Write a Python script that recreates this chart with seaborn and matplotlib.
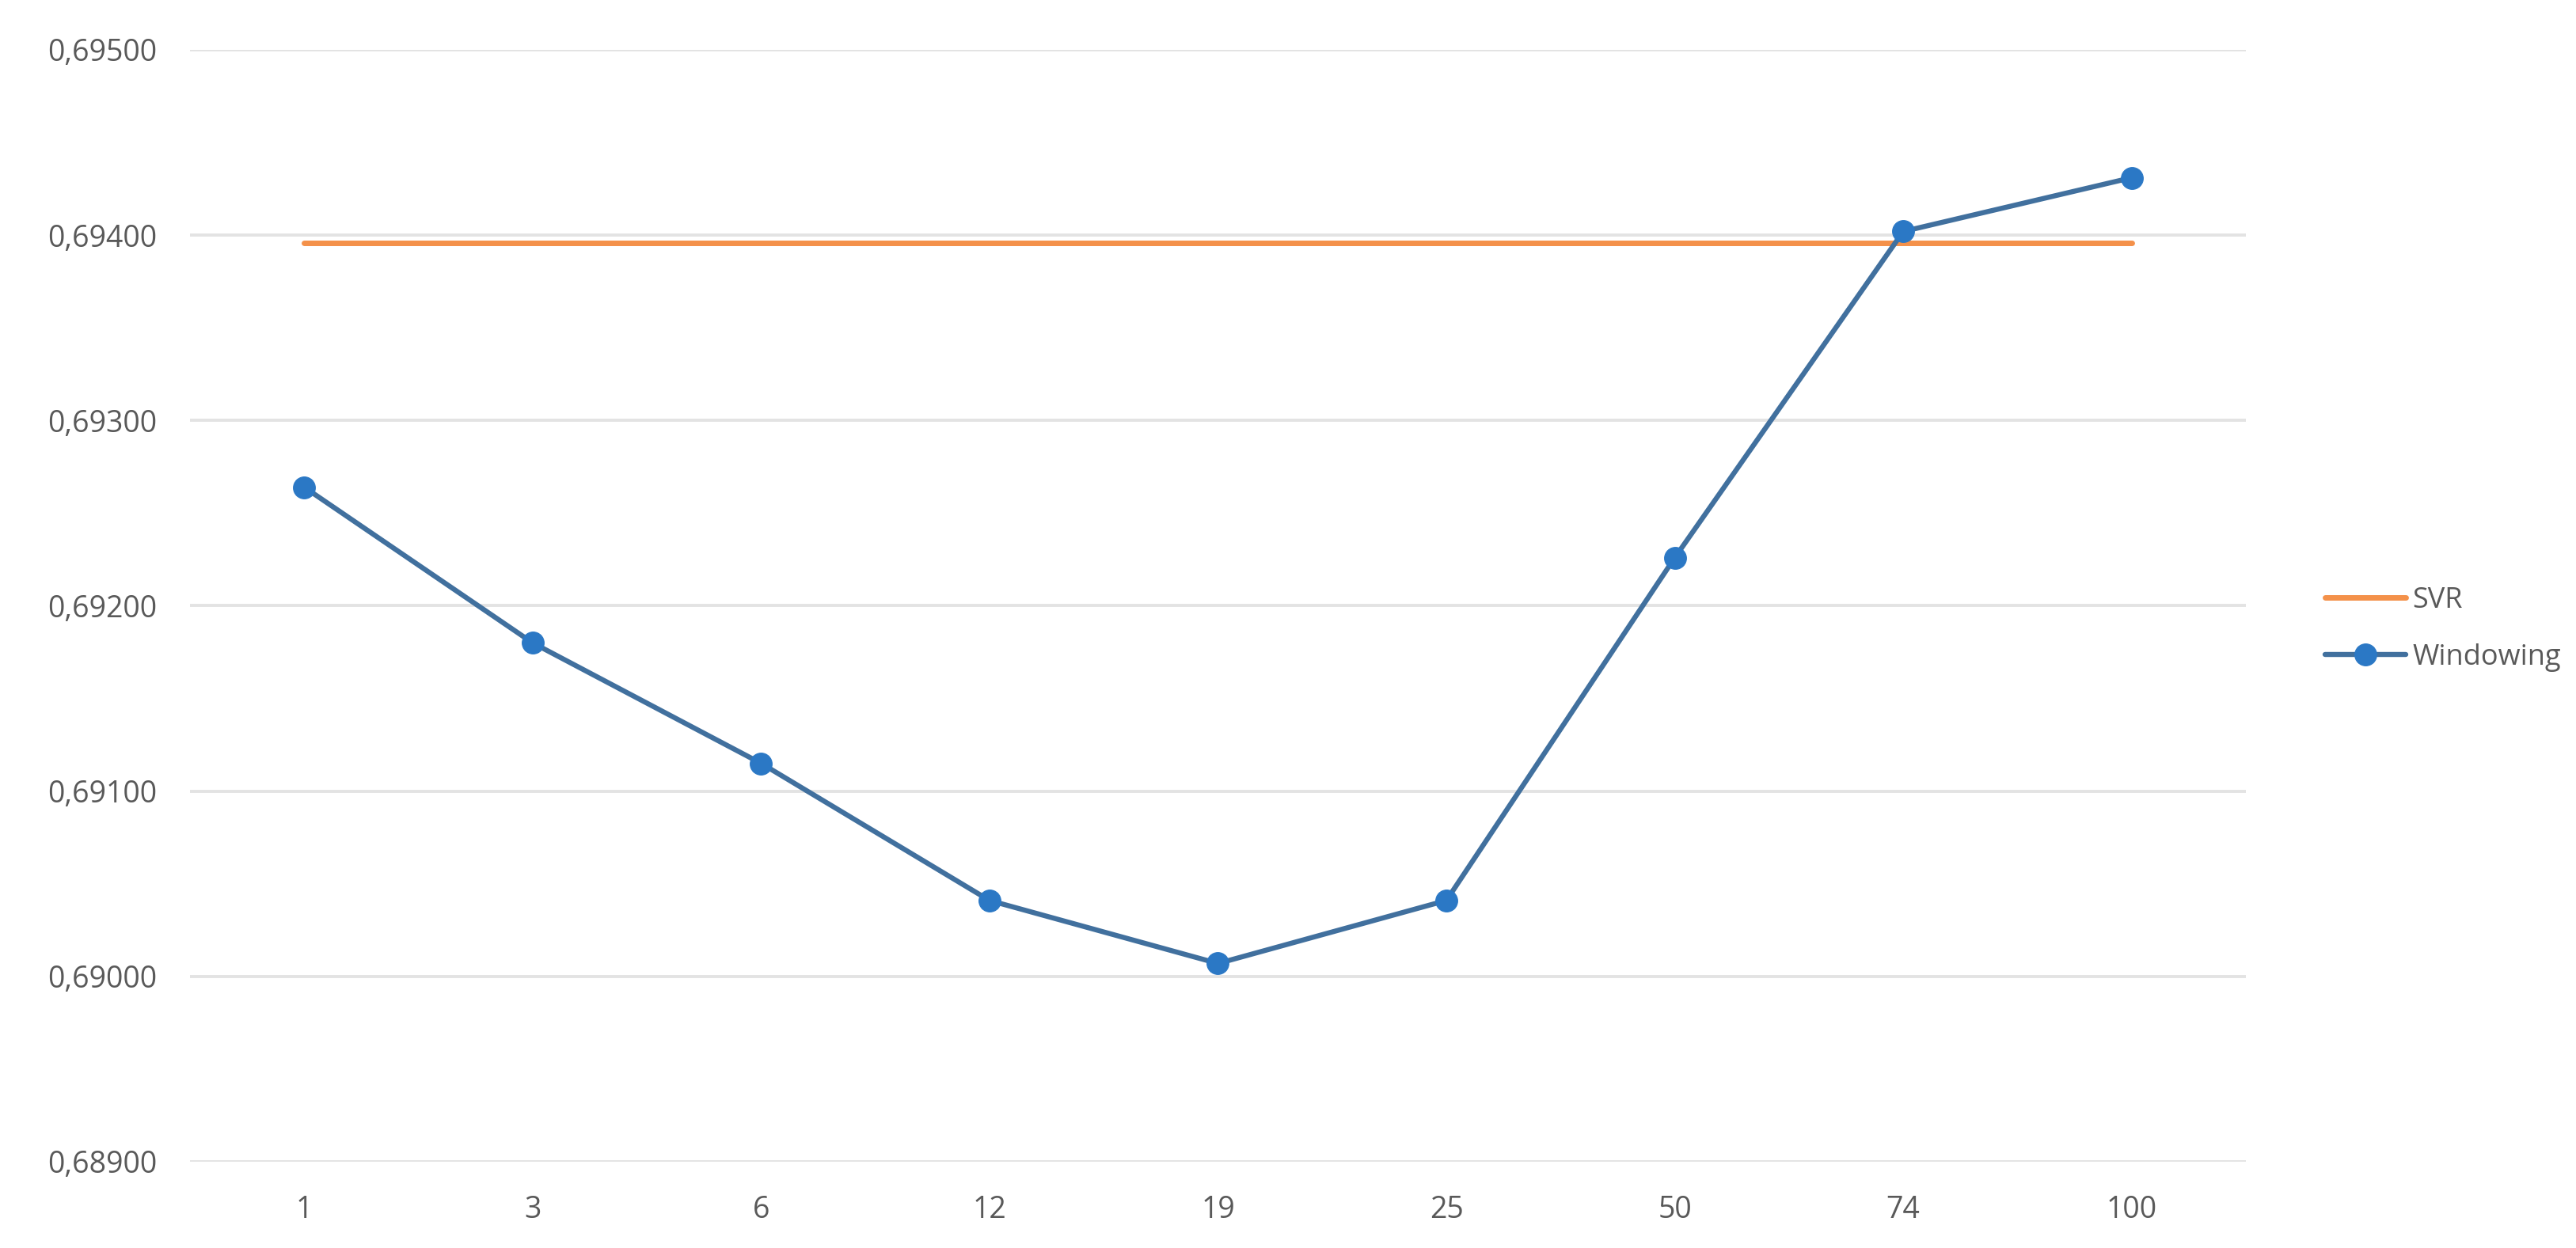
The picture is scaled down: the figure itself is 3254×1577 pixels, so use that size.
import matplotlib
matplotlib.use("Agg")
import matplotlib.pyplot as plt
import pandas as pd
import seaborn as sns
from matplotlib.ticker import FuncFormatter, MultipleLocator

# window sizes (x categories) and values
windows   = ["1", "3", "6", "12", "19", "25", "50", "74", "100"]
windowing = [0.69264, 0.69180, 0.69115, 0.69041, 0.69007, 0.69041, 0.69226, 0.69402, 0.69431]
svr       = [0.69396, 0.69396, 0.69396, 0.69396, 0.69396, 0.69396, 0.69396, 0.69396, 0.69396]
y_ticks   = [0.689, 0.690, 0.691, 0.692, 0.693, 0.694, 0.695]

df = pd.DataFrame({"window": windows, "Windowing": windowing, "SVR": svr})

sns.set_theme(style="white")
plt.rcParams["font.family"] = ["Open Sans", "DejaVu Sans"]

fig = plt.figure(figsize=(32.55, 15.77), dpi=100)
ax = fig.add_axes([240 / 3255, 1 - 1468 / 1577, (2837 - 240) / 3255, (1468 - 63) / 1577])

sns.lineplot(data=df, x="window", y="SVR", sort=False, color="#F4914A",
             linewidth=5, ax=ax, label="SVR", zorder=3)
sns.lineplot(data=df, x="window", y="Windowing", sort=False, color="#41709E",
             linewidth=4.6, marker="o", markersize=20, markerfacecolor="#2B78C5",
             markeredgecolor="#2B78C5", ax=ax, label="Windowing", zorder=4)

ax.set_xlim(-0.5, len(windows) - 0.5)
ax.set_ylim(y_ticks[0], y_ticks[-1])
ax.yaxis.set_major_locator(MultipleLocator(0.001))
ax.yaxis.set_major_formatter(FuncFormatter(lambda v, p: f"{v:.5f}".replace(".", ",")))
ax.grid(axis="y", color="#E3E3E3", linewidth=2.8, zorder=0)
ax.set_axisbelow(True)
for s in ax.spines.values():
    s.set_visible(False)
ax.tick_params(axis="both", length=0, pad=30, labelsize=27, labelcolor="#595959")
ax.set_xlabel("")
ax.set_ylabel("")

ax.get_legend().remove()
handles, labels = ax.get_legend_handles_labels()
leg = fig.legend(handles, labels, loc="center left", bbox_to_anchor=(2905 / 3255, 1 - 795 / 1577),
                 frameon=False, fontsize=26, handlelength=2.8, handletextpad=0.25,
                 labelspacing=1.0, labelcolor="#595959")

fig.savefig("out.png", dpi=100, facecolor="white")
